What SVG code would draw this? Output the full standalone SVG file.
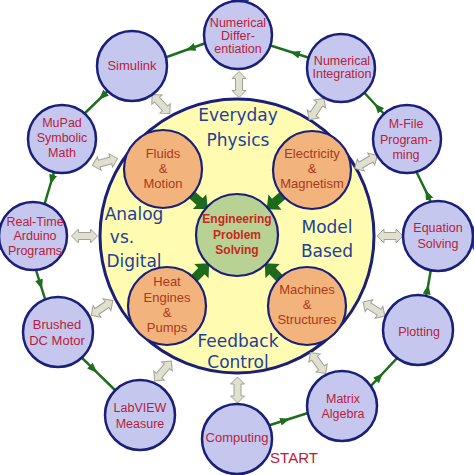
<svg xmlns="http://www.w3.org/2000/svg" width="474" height="475" viewBox="0 0 474 475">
<defs>
<style>
.bg{fill:#ffffff}
.hub{fill:#fffcb2;stroke:#1a1f78;stroke-width:3}
.outer{fill:#c5c7ee;stroke:#1a1f78;stroke-width:2.5}
.topic{fill:#f3b37c;stroke:#1a1f78;stroke-width:2.2}
.core{fill:#b7d293;stroke:#1a1f78;stroke-width:2.2}
.ot{font-family:"Liberation Sans",Arial,sans-serif;font-size:12.5px;fill:#b91c3c;text-anchor:middle}
.tt{font-family:"Liberation Sans",Arial,sans-serif;font-size:13px;fill:#a8391c;text-anchor:middle}
.ct{font-family:"Liberation Sans",Arial,sans-serif;font-size:12px;font-weight:bold;fill:#c8281e;text-anchor:middle}
.bt{font-family:"DejaVu Sans",sans-serif;font-size:17px;fill:#223f98;text-anchor:middle}
.ring{fill:none;stroke:#1e6e1e;stroke-width:2.5;marker-mid:url(#ah)}
.dbl{fill:#dfe0d0;stroke:#a0a294;stroke-width:1}
.garr{fill:#1d6a1d}
.blob{fill:#2c3c9c}
</style>
<marker id="ah" markerUnits="userSpaceOnUse" markerWidth="10" markerHeight="10" viewBox="0 0 10 10" refX="5" refY="5" orient="auto">
<path d="M0,1 L10,5 L0,9 Z" fill="#1e6e1e"/>
</marker>
<path id="dblarrow" d="M-13,0 L-6,-7 L-6,-3.5 L6,-3.5 L6,-7 L13,0 L6,7 L6,3.5 L-6,3.5 L-6,7 Z"/>
<path id="garrow" d="M0,-4.5 L13,-4.5 L13,-10 L24,0 L13,10 L13,4.5 L0,4.5 Z"/>
</defs>
<rect class="bg" x="0" y="0" width="474" height="475"/>
<g id="edge-marks">
<ellipse class="blob" cx="240" cy="0" rx="9" ry="3"/>
<ellipse class="blob" cx="0" cy="238" rx="3" ry="12"/>
<ellipse class="blob" cx="474" cy="238" rx="3" ry="12"/>
<ellipse class="blob" cx="238" cy="475" rx="7" ry="3"/>
</g>
<g id="hub">
<circle class="hub" cx="237" cy="236" r="137"/>
<text class="bt" x="238" y="121">Everyday</text>
<text class="bt" x="238" y="146">Physics</text>
<text class="bt" x="134" y="220">Analog</text>
<text class="bt" x="122" y="243">vs.</text>
<text class="bt" x="134" y="267">Digital</text>
<text class="bt" x="327" y="233">Model</text>
<text class="bt" x="327" y="257">Based</text>
<text class="bt" x="238" y="347">Feedback</text>
<text class="bt" x="238" y="368">Control</text>
</g>
<g id="connectors">
<path class="ring" d="M267,426 L285.2,420.2 L311,412"/>
<path class="ring" d="M368,389 L379.45,376.85 L399,356"/>
<path class="ring" d="M425.5,300 L427.5,289.3 L431.5,266"/>
<path class="ring" d="M432,205 L427.5,194.5 L415,169"/>
<path class="ring" d="M385,115 L377.75,107.25 L360,88"/>
<path class="ring" d="M313,59 L294.8,53.2 L269,45"/>
<path class="ring" d="M206,43 L190.4,48.55 L164,58"/>
<path class="ring" d="M112,87 L102.5,96.2 L83,115"/>
<path class="ring" d="M55,169 L51.75,179.75 L44,206"/>
<path class="ring" d="M35,267 L40.5,284.5 L46,302"/>
<path class="ring" d="M79,355 L93.55,369.2 L118,393"/>
<g class="dbl">
<use href="#dblarrow" transform="translate(239,84.5) rotate(90)"/>
<use href="#dblarrow" transform="translate(161,104) rotate(47)"/>
<use href="#dblarrow" transform="translate(316.5,109) rotate(-56)"/>
<use href="#dblarrow" transform="translate(105,162) rotate(-15)"/>
<use href="#dblarrow" transform="translate(84.5,236)"/>
<use href="#dblarrow" transform="translate(102,308) rotate(-34)"/>
<use href="#dblarrow" transform="translate(163,371) rotate(-50)"/>
<use href="#dblarrow" transform="translate(237.5,390) rotate(90)"/>
<use href="#dblarrow" transform="translate(318,363) rotate(54)"/>
<use href="#dblarrow" transform="translate(374,309) rotate(33)"/>
<use href="#dblarrow" transform="translate(390,236)"/>
<use href="#dblarrow" transform="translate(366,162) rotate(-30)"/>
</g>
<g class="garr">
<use href="#garrow" transform="translate(189.9,193) rotate(41.7)"/>
<use href="#garrow" transform="translate(284.8,193.6) rotate(139.1)"/>
<use href="#garrow" transform="translate(192.3,280.4) rotate(-45.4)"/>
<use href="#garrow" transform="translate(281.7,280.4) rotate(-134.6)"/>
</g>
</g>
<g id="core">
<circle class="core" cx="237" cy="235" r="41"/>
<text class="ct" x="237" y="223">Engineering</text>
<text class="ct" x="237" y="239">Problem</text>
<text class="ct" x="237" y="254">Solving</text>
</g>
<g id="fluids">
<circle class="topic" cx="163" cy="169" r="39"/>
<text class="tt" x="163" y="158">Fluids</text>
<text class="tt" x="163" y="173">&amp;</text>
<text class="tt" x="163" y="188">Motion</text>
</g>
<g id="electricity">
<circle class="topic" cx="312" cy="170" r="39"/>
<text class="tt" x="312" y="158">Electricity</text>
<text class="tt" x="312" y="173">&amp;</text>
<text class="tt" x="312" y="188">Magnetism</text>
</g>
<g id="heat">
<circle class="topic" cx="167" cy="306" r="39"/>
<text class="tt" x="167" y="286">Heat</text>
<text class="tt" x="167" y="302">Engines</text>
<text class="tt" x="167" y="317">&amp;</text>
<text class="tt" x="167" y="332">Pumps</text>
</g>
<g id="machines">
<circle class="topic" cx="307" cy="306" r="39"/>
<text class="tt" x="307" y="294">Machines</text>
<text class="tt" x="307" y="309">&amp;</text>
<text class="tt" x="307" y="324">Structures</text>
</g>
<g id="numdiff">
<circle class="outer" cx="238" cy="35" r="34"/>
<text class="ot" x="238" y="27">Numerical</text>
<text class="ot" x="238" y="40">Differ-</text>
<text class="ot" x="238" y="53">entiation</text>
</g>
<g id="simulink">
<circle class="outer" cx="132" cy="66" r="35"/>
<text class="ot" x="132" y="70" style="font-size:13px">Simulink</text>
</g>
<g id="numint">
<circle class="outer" cx="341" cy="68" r="34"/>
<text class="ot" x="342" y="65">Numerical</text>
<text class="ot" x="342" y="78">Integration</text>
</g>
<g id="mupad">
<circle class="outer" cx="62" cy="139" r="34"/>
<text class="ot" x="62" y="127">MuPad</text>
<text class="ot" x="62" y="142">Symbolic</text>
<text class="ot" x="62" y="157">Math</text>
</g>
<g id="realtime">
<circle class="outer" cx="33" cy="236" r="34"/>
<text class="ot" x="35" y="226">Real-Time</text>
<text class="ot" x="35" y="240">Arduino</text>
<text class="ot" x="35" y="255">Programs</text>
</g>
<g id="brushed">
<circle class="outer" cx="58" cy="332" r="35"/>
<text class="ot" x="57" y="329" style="font-size:13px">Brushed</text>
<text class="ot" x="57" y="345" style="font-size:13px">DC Motor</text>
</g>
<g id="labview">
<circle class="outer" cx="140" cy="415" r="35"/>
<text class="ot" x="140" y="412">LabVIEW</text>
<text class="ot" x="140" y="428">Measure</text>
</g>
<g id="computing">
<circle class="outer" cx="237" cy="439" r="35"/>
<text class="ot" x="237" y="442" style="font-size:13px">Computing</text>
</g>
<g id="matrix">
<circle class="outer" cx="342" cy="406" r="35"/>
<text class="ot" x="343" y="403">Matrix</text>
<text class="ot" x="343" y="418">Algebra</text>
</g>
<g id="plotting">
<circle class="outer" cx="418" cy="330" r="35"/>
<text class="ot" x="419" y="336">Plotting</text>
</g>
<g id="equation">
<circle class="outer" cx="438" cy="236" r="35"/>
<text class="ot" x="438" y="232">Equation</text>
<text class="ot" x="438" y="248">Solving</text>
</g>
<g id="mfile">
<circle class="outer" cx="407" cy="139" r="34"/>
<text class="ot" x="406" y="128">M-File</text>
<text class="ot" x="406" y="144">Program-</text>
<text class="ot" x="406" y="159">ming</text>
</g>
<g id="start-label">
<text class="ot" x="294" y="463" style="font-size:15px">START</text>
</g>
</svg>
